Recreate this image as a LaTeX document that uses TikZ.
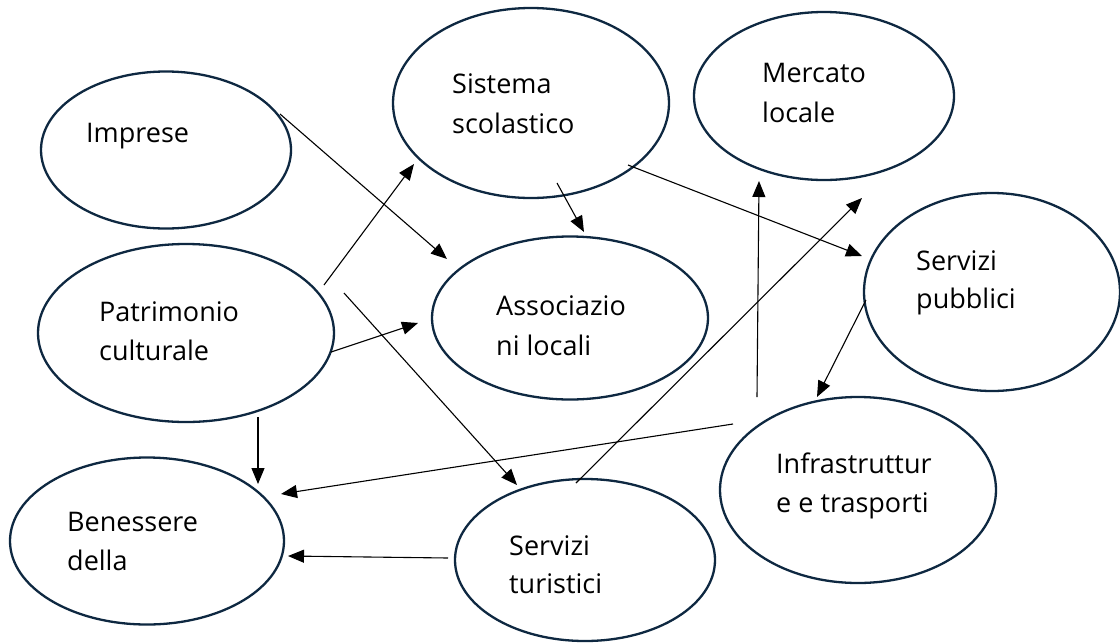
\documentclass[tikz,border=0pt]{standalone}
\usepackage{fontspec}
\setmainfont{Open Sans}
\usetikzlibrary{arrows.meta,shapes.geometric}
\definecolor{navy}{HTML}{0E2841}
\tikzset{
  ell/.style={draw=navy,line width=2.3pt,ellipse,inner sep=0pt},
  txt/.style={anchor=base west,inner sep=0pt,font=\fontsize{27}{32}\selectfont,text=black},
  conn/.style={draw=black,line width=1.1pt,-{Triangle[length=16pt,width=13pt]}}
}
\begin{document}
\begin{tikzpicture}[x=1pt,y=-1pt]
\useasboundingbox (0,0) rectangle (1120,643);
\fill[white] (0,0) rectangle (1120,643);
% ellipses
\node[ell,minimum width=250pt,minimum height=157pt] (imp) at (166,150) {};
\node[ell,minimum width=276pt,minimum height=190pt] (sis) at (531,103) {};
\node[ell,minimum width=260pt,minimum height=168pt] (mer) at (824,96) {};
\node[ell,minimum width=256pt,minimum height=198pt] (pub) at (992,292) {};
\node[ell,minimum width=296pt,minimum height=178pt] (pat) at (186,333) {};
\node[ell,minimum width=276pt,minimum height=163pt] (ass) at (570,318) {};
\node[ell,minimum width=274pt,minimum height=167pt] (ben) at (147,541) {};
\node[ell,minimum width=260pt,minimum height=162pt] (tur) at (585,560) {};
\node[ell,minimum width=276pt,minimum height=186pt] (inf) at (858,490) {};
% texts
\node[txt] (imp-t) at (86,142) {Imprese};
\node[txt] (sis-t1) at (452,93) {Sistema};
\node[txt] (sis-t2) at (452,133) {scolastico};
\node[txt] (mer-t1) at (762,82) {Mercato};
\node[txt] (mer-t2) at (762,122) {locale};
\node[txt] (pub-t1) at (916,270) {Servizi};
\node[txt] (pub-t2) at (916,308) {pubblici};
\node[txt] (pat-t1) at (99,321) {Patrimonio};
\node[txt] (pat-t2) at (99,360) {culturale};
\node[txt] (ass-t1) at (496,315) {Associazio};
\node[txt] (ass-t2) at (496,355) {ni locali};
\node[txt] (ben-t1) at (67,531) {Benessere};
\node[txt] (ben-t2) at (67,570) {della};
\node[txt] (tur-t1) at (509,555) {Servizi};
\node[txt] (tur-t2) at (509,593) {turistici};
\node[txt] (inf-t1) at (776,473) {Infrastruttur};
\node[txt] (inf-t2) at (776,512) {e e trasporti};
% connector end points
\coordinate (impA) at (280,114);   \coordinate (assA) at (447,259);
\coordinate (patS) at (324,285);   \coordinate (sisP) at (414,164);
\coordinate (patT) at (344,293);   \coordinate (turP) at (517,485);
\coordinate (patA) at (331,352);   \coordinate (assP) at (418,323);
\coordinate (patB) at (258,417);   \coordinate (benP) at (258,484);
\coordinate (sisA) at (557,183);   \coordinate (assS) at (584,232);
\coordinate (sisU) at (628,165);   \coordinate (pubS) at (862,256);
\coordinate (infM) at (757,397);   \coordinate (merI) at (759,181);
\coordinate (turU) at (576,483);   \coordinate (pubT) at (862,198);
\coordinate (pubI) at (866,300);   \coordinate (infP) at (817,397);
\coordinate (infB) at (733,424);   \coordinate (benI) at (281,494);
\coordinate (turB) at (448,558);   \coordinate (benT) at (288,556);
% connectors
\draw[conn] (impA) -- (assA);
\draw[conn] (patS) -- (sisP);
\draw[conn] (patT) -- (turP);
\draw[conn] (patA) -- (assP);
\draw[conn] (patB) -- (benP);
\draw[conn] (sisA) -- (assS);
\draw[conn] (sisU) -- (pubS);
\draw[conn] (infM) -- (merI);
\draw[conn] (turU) -- (pubT);
\draw[conn] (pubI) -- (infP);
\draw[conn] (infB) -- (benI);
\draw[conn] (turB) -- (benT);
\end{tikzpicture}
\end{document}
